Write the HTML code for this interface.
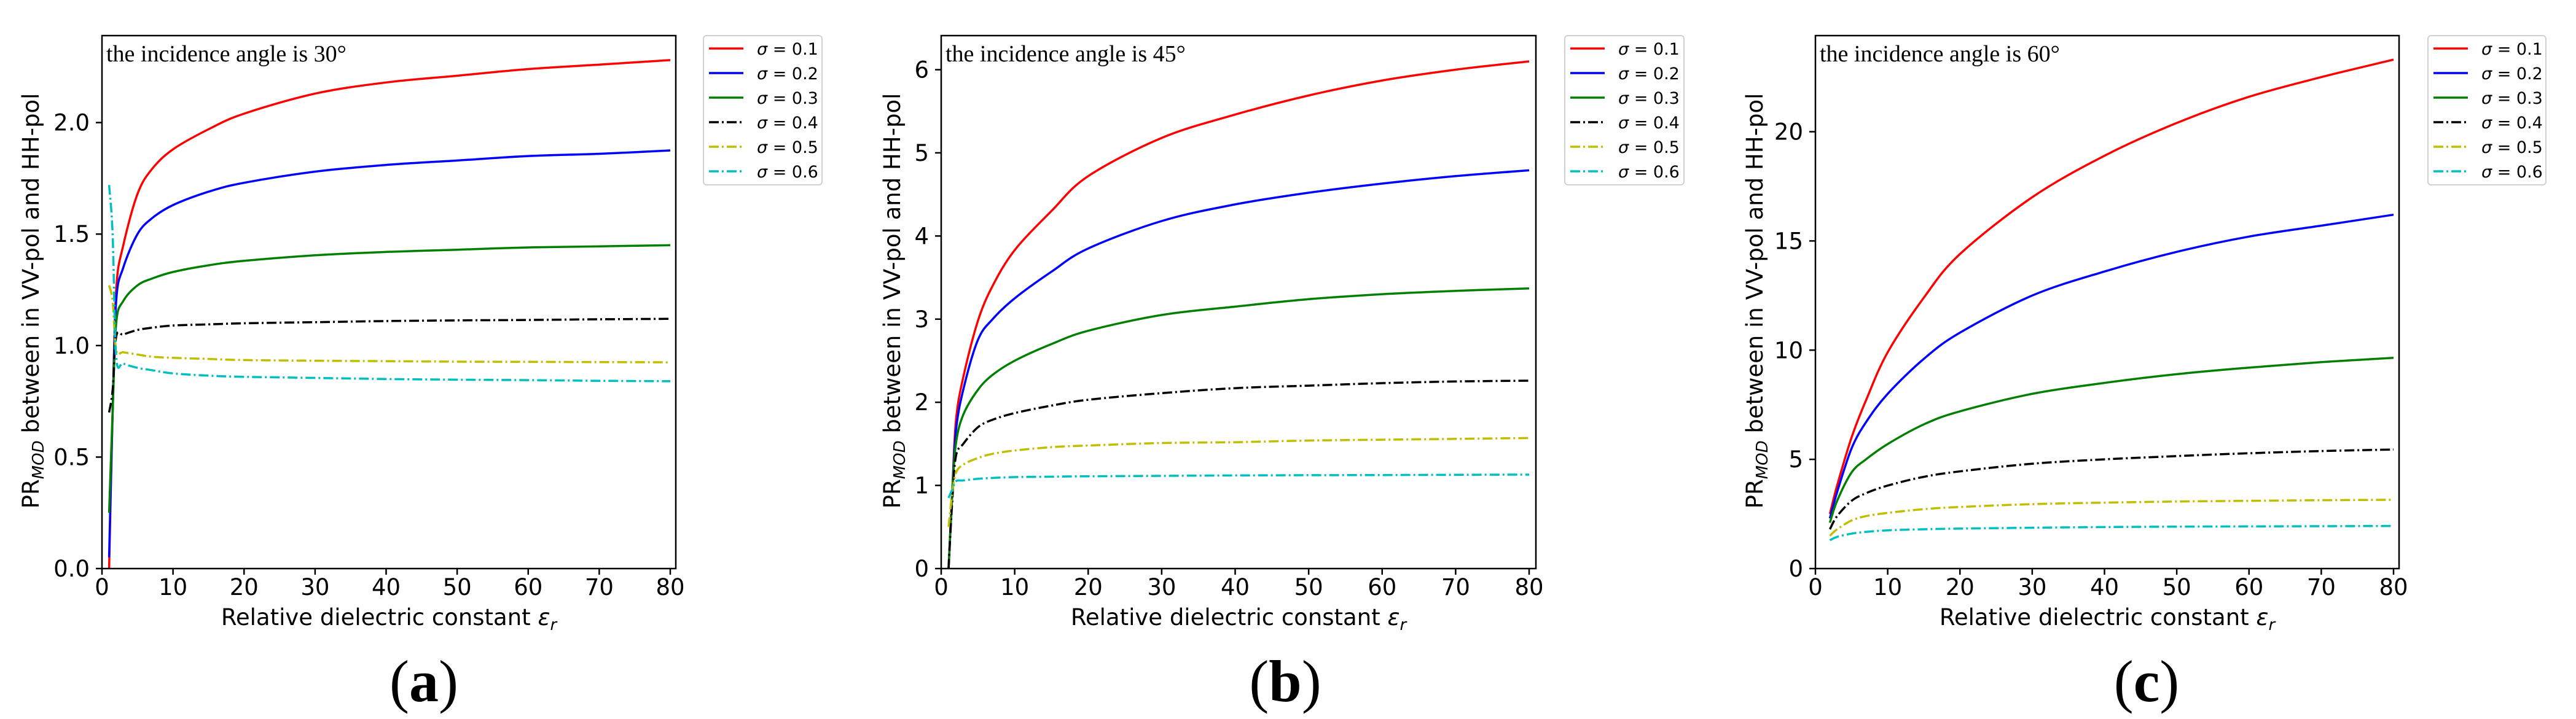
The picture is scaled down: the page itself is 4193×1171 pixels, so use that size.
<!DOCTYPE html>
<html><head><meta charset="utf-8"><style>
html,body{margin:0;padding:0;background:#fff;}
svg{display:block;}
text{font-family:"DejaVu Sans","Liberation Sans",sans-serif;fill:#000;}
</style></head><body>
<svg id="fig" width="4193" height="1171" viewBox="0 0 4193 1171" xmlns="http://www.w3.org/2000/svg"></svg>
<script>
const labels = ["σ = 0.1","σ = 0.2","σ = 0.3","σ = 0.4","σ = 0.5","σ = 0.6"];
const xTicks = [0,10,20,30,40,50,60,70,80];
// Panel (a) 30 deg
const xA = [1,1.5,2,3,5,7,10,15,20,30,40,50,60,70,80];
const aRed = [0,0.7,1.25,1.45,1.68,1.79,1.88,1.97,2.04,2.13,2.18,2.21,2.24,2.26,2.28];
const aBlue = [0.05,0.7,1.2,1.35,1.5,1.57,1.63,1.69,1.73,1.78,1.81,1.83,1.85,1.86,1.875];
const aGreen = [0.25,0.7,1.1,1.2,1.27,1.3,1.33,1.36,1.38,1.405,1.42,1.43,1.44,1.445,1.45];
const aBlack = [0.7,0.8,1.04,1.05,1.07,1.08,1.09,1.095,1.1,1.105,1.11,1.113,1.115,1.118,1.12];
const aYellow = [1.27,1.2,0.98,0.97,0.96,0.95,0.945,0.94,0.935,0.932,0.93,0.928,0.927,0.926,0.925];
const aCyan = [1.72,1.5,0.95,0.92,0.9,0.89,0.875,0.865,0.86,0.855,0.85,0.847,0.845,0.842,0.84];
const aYTicks = [0,0.5,1.0,1.5,2.0];
const aYTickLabels = ["0.0","0.5","1.0","1.5","2.0"];
// Panel (b) 45 deg
const xB = [1,1.5,2,3,5,7,10,15,20,30,40,50,60,70,80];
const bRed = [0,0.9,1.77,2.3,2.98,3.4,3.83,4.3,4.72,5.18,5.46,5.69,5.87,6.0,6.1];
const bBlue = [0,0.9,1.65,2.15,2.75,3.0,3.25,3.57,3.85,4.18,4.38,4.52,4.63,4.72,4.79];
const bGreen = [0,0.9,1.5,1.85,2.15,2.33,2.5,2.7,2.86,3.05,3.15,3.24,3.3,3.34,3.37];
const bBlack = [0,0.8,1.35,1.5,1.7,1.79,1.87,1.96,2.03,2.11,2.17,2.2,2.23,2.25,2.26];
const bYellow = [0.5,0.9,1.15,1.25,1.33,1.38,1.42,1.46,1.48,1.51,1.52,1.54,1.55,1.56,1.57];
const bCyan = [0.85,0.95,1.05,1.06,1.08,1.09,1.1,1.105,1.11,1.115,1.12,1.123,1.125,1.128,1.13];
const bYTicks = [0,1,2,3,4,5,6];
const bYTickLabels = ["0","1","2","3","4","5","6"];
// Panel (c) 60 deg
const xC = [2,3,5,7,10,15,20,30,40,50,60,70,80];
const cRed = [2.5,3.8,6,7.7,9.9,12.4,14.4,17.0,18.9,20.4,21.6,22.5,23.3];
const cBlue = [2.3,3.5,5.5,6.7,8.0,9.6,10.8,12.5,13.6,14.5,15.2,15.7,16.2];
const cGreen = [2.1,3.1,4.4,5.0,5.7,6.6,7.2,8.0,8.5,8.9,9.2,9.45,9.65];
const cBlack = [1.8,2.4,3.1,3.45,3.8,4.2,4.45,4.8,5.0,5.15,5.28,5.38,5.45];
const cYellow = [1.5,1.8,2.2,2.4,2.55,2.72,2.82,2.95,3.02,3.07,3.1,3.13,3.15];
const cCyan = [1.3,1.45,1.6,1.68,1.75,1.8,1.83,1.87,1.9,1.92,1.93,1.94,1.95];
const cYTicks = [0,5,10,15,20];
const cYTickLabels = ["0","5","10","15","20"];

const NS="http://www.w3.org/2000/svg";
const fig=document.getElementById('fig');
function mk(tag,attrs,parent){const e=document.createElementNS(NS,tag);for(const k in attrs)e.setAttribute(k,attrs[k]);(parent||fig).appendChild(e);return e;}
function smooth(pts){
  let d='M'+pts[0][0].toFixed(1)+' '+pts[0][1].toFixed(1);
  for(let i=0;i<pts.length-1;i++){
    const p0=pts[Math.max(0,i-1)],p1=pts[i],p2=pts[i+1],p3=pts[Math.min(pts.length-1,i+2)];
    const c1x=p1[0]+(p2[0]-p0[0])/6,c1y=p1[1]+(p2[1]-p0[1])/6;
    const c2x=p2[0]-(p3[0]-p1[0])/6,c2y=p2[1]-(p3[1]-p1[1])/6;
    d+=' C'+c1x.toFixed(1)+' '+c1y.toFixed(1)+' '+c2x.toFixed(1)+' '+c2y.toFixed(1)+' '+p2[0].toFixed(1)+' '+p2[1].toFixed(1);
  }
  return d;
}
const colors=["#ff0000","#0000ff","#007f00","#000000","#bfbf00","#00bfbf"];
const dashes=[null,null,null,"16 5 3 5","16 5 3 5","16 5 3 5"];

const panels=[
 {id:"a",L:166,R:1100,x0:166,x80:1091,ymax:2.39,xs:xA,series:[aRed,aBlue,aGreen,aBlack,aYellow,aCyan],yt:aYTicks,ytl:aYTickLabels,angle:"30",legL:1145,legR:1338,ylx:50,tagx:690},
 {id:"b",L:1532,R:2500,x0:1532,x80:2489,ymax:6.41,xs:xB,series:[bRed,bBlue,bGreen,bBlack,bYellow,bCyan],yt:bYTicks,ytl:bYTickLabels,angle:"45",legL:2547,legR:2741,ylx:1452,tagx:2092},
 {id:"c",L:2955,R:3905,x0:2955,x80:3896,ymax:24.4,xs:xC,series:[cRed,cBlue,cGreen,cBlack,cYellow,cCyan],yt:cYTicks,ytl:cYTickLabels,angle:"60",legL:3952,legR:4144,ylx:2856,tagx:3494}
];
const TOP=58,BOT=926;
panels.forEach(p=>{
  const g=mk('g',{});
  
  
  const X=v=>p.x0+(p.x80-p.x0)*v/80;
  const Y=v=>BOT-(BOT-TOP)*v/p.ymax;
  const clipId='clip'+p.id;
  const cp=mk('clipPath',{id:clipId},g);
  mk('rect',{x:p.L,y:TOP,width:p.R-p.L,height:BOT-TOP},cp);
  p.series.forEach((vals,i)=>{
    const pts=vals.map((v,j)=>[X(p.xs[j]),Y(v)]);
    const a={d:smooth(pts),fill:'none',stroke:colors[i],'stroke-width':3.5,'stroke-linejoin':'round','clip-path':'url(#'+clipId+')'};
    if(dashes[i])a['stroke-dasharray']=dashes[i];
    const path=mk('path',a,g);
    
    
  });
  const fr=mk('rect',{x:p.L,y:TOP,width:p.R-p.L,height:BOT-TOP,fill:'none',stroke:'#000','stroke-width':2.5},g);
  
  
  xTicks.forEach(t=>{
    mk('line',{x1:X(t),x2:X(t),y1:BOT,y2:BOT+10,stroke:'#000','stroke-width':2.5},g);
    const tx=mk('text',{x:X(t),y:969,'font-size':37,'text-anchor':'middle'},g);
    tx.textContent=t;
    
    
  });
  p.yt.forEach((t,i)=>{
    mk('line',{x1:p.L-10,x2:p.L,y1:Y(t),y2:Y(t),stroke:'#000','stroke-width':2.5},g);
    const ty=mk('text',{x:p.L-20,y:Y(t)+13,'font-size':37,'text-anchor':'end'},g);
    ty.textContent=p.ytl[i];
    
    
  });
  const xl=mk('text',{x:(p.L+p.R)/2,y:1018,'font-size':37,'text-anchor':'middle'},g);
  xl.innerHTML='Relative dielectric constant <tspan font-style="italic">ε</tspan><tspan font-style="italic" font-size="26" dy="8">r</tspan>';
  
  
  const yl=mk('text',{x:0,y:0,'font-size':37,'text-anchor':'middle',transform:'translate('+(p.ylx+13)+' 490) rotate(-90)'},g);
  yl.innerHTML='PR<tspan font-style="italic" font-size="26" dy="8">MOD</tspan><tspan dy="-8"> between in VV-pol and HH-pol</tspan>';
  
  
  const an=mk('text',{x:p.L+7,y:100,'font-size':38,style:'font-family:"Liberation Serif",serif'},g);
  an.textContent='the incidence angle is '+p.angle+'°';
  
  
  const lg=mk('g',{},g);
  
  
  mk('rect',{x:p.legL,y:TOP,width:p.legR-p.legL,height:243,rx:5,fill:'#fff',stroke:'#d0d0d0','stroke-width':2},lg);
  labels.forEach((lab,i)=>{
    const ly=79+i*40;
    const la={x1:p.legL+9,x2:p.legL+65,y1:ly,y2:ly,stroke:colors[i],'stroke-width':3.5};
    if(dashes[i])la['stroke-dasharray']=dashes[i];
    const ln=mk('line',la,lg);
    
    
    const lt=mk('text',{x:p.legL+87,y:ly+10,'font-size':27},lg);
    lt.innerHTML='<tspan font-style="italic">σ</tspan>'+lab.slice(1);
    
    
  });
  const tg=mk('text',{x:p.tagx,y:1142,'font-size':96,'text-anchor':'middle',style:'font-family:"Liberation Serif",serif'},g);
  tg.innerHTML='(<tspan font-weight="bold">'+p.id+'</tspan>)';
  
  
});
</script>
</body></html>
